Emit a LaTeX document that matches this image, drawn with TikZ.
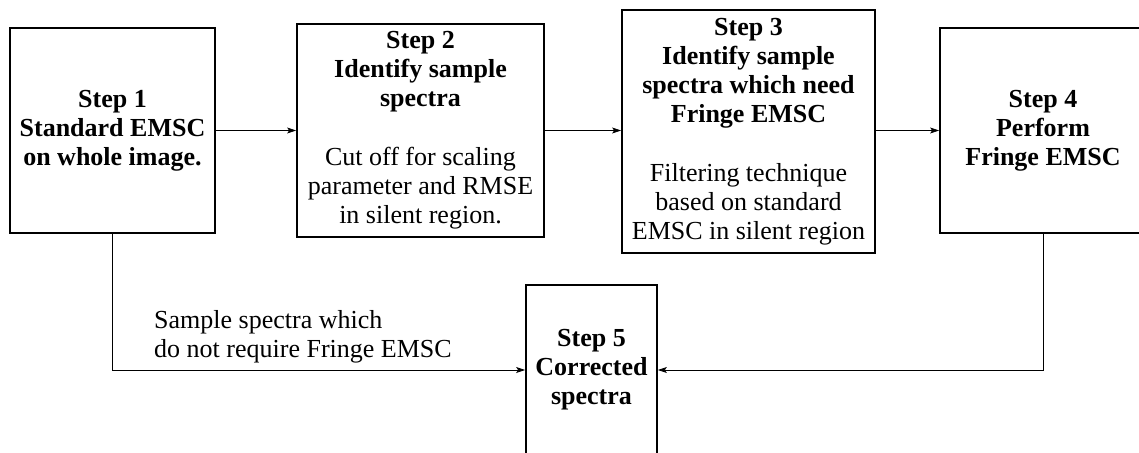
\documentclass[tikz,border=0pt]{standalone}
\usepackage{fontspec}
\setmainfont{Liberation Serif}
\usetikzlibrary{arrows.meta,calc}

\begin{document}
\begin{tikzpicture}[
  x=1pt,y=-1pt,
  font=\fontsize{26}{29}\selectfont,
  stepbox/.style={draw=black,line width=1.7pt,fill=white,align=center,inner sep=0pt},
  flow/.style={draw=black,line width=0.8pt,-{Stealth[length=9pt,width=6pt,inset=2pt]}},
]
\useasboundingbox (0,0) rectangle (1139,452);
\clip (0,0) rectangle (1139,452);

\node[stepbox,minimum width=205pt,minimum height=205pt] (s1) at (112.5,130.5)
  {\bfseries Step 1\\\bfseries Standard EMSC\\\bfseries on whole image.};
\node[stepbox,minimum width=247pt,minimum height=213pt] (s2) at (420.5,130.5)
  {\bfseries Step 2\\\bfseries Identify sample\\\bfseries spectra\\[30pt]
   Cut off for scaling\\parameter and RMSE\\in silent region.};
\node[stepbox,minimum width=253pt,minimum height=243pt] (s3) at (748.5,131.5)
  {\bfseries Step 3\\\bfseries Identify sample\\\bfseries spectra which need\\\bfseries Fringe EMSC\\[30pt]
   Filtering technique\\based on standard\\EMSC in silent region};
\node[stepbox,minimum width=206pt,minimum height=205pt] (s4) at (1043,130.5)
  {\bfseries Step 4\\\bfseries Perform\\\bfseries Fringe EMSC};
\node[stepbox,minimum width=131pt,minimum height=170pt] (s5) at (591.5,370)
  {\bfseries Step 5\\\bfseries Corrected\\\bfseries spectra};

% top row
\draw[flow] (s1.east) -- (s1.east -| s2.west);
\draw[flow] (s2.east) -- (s2.east -| s3.west);
\draw[flow] (s2.east -| s3.east) -- (s2.east -| s4.west);

% back to step 5
\draw[flow] (s1.south) |- (s5.west);
\draw[flow] (s4.south) |- (s5.east);

\node[anchor=south west,align=left,inner sep=0pt] (skip) at (154,363)
  {Sample spectra which\\do not require Fringe EMSC};
\end{tikzpicture}
\end{document}
